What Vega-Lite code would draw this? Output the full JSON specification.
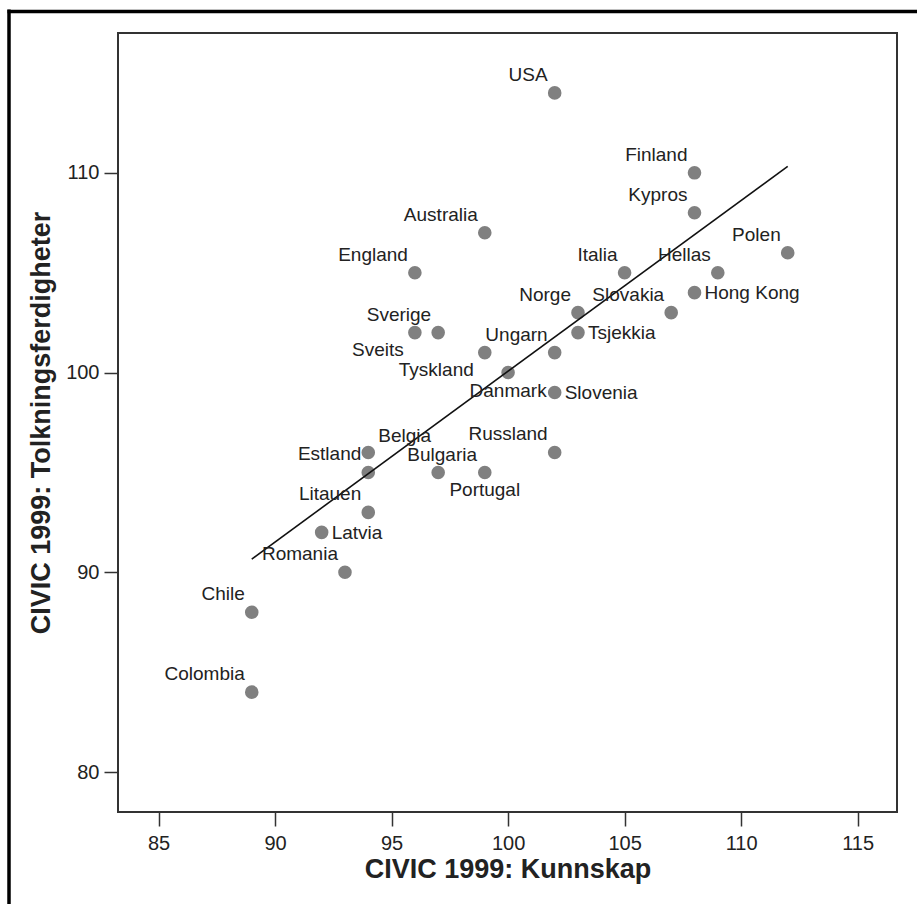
{
  "$schema": "https://vega.github.io/schema/vega-lite/v6.json",
  "width": 779,
  "height": 779,
  "autosize": "none",
  "padding": {"left": 118, "top": 33, "right": 20, "bottom": 92},
  "background": "white",
  "config": {
    "font": "Liberation Sans",
    "view": {"stroke": "#333333", "strokeWidth": 2},
    "axis": {
      "grid": false,
      "domain": false,
      "tickSize": 14,
      "tickColor": "#333333",
      "tickWidth": 1.5,
      "labelFont": "Liberation Sans",
      "labelFontSize": 20,
      "labelColor": "#222222",
      "labelFlush": false,
      "titleFont": "Liberation Sans",
      "titleFontSize": 27,
      "titleFontWeight": "bold",
      "titleColor": "#222222"
    },
    "text": {"font": "Liberation Sans", "fontSize": 19, "color": "#222222"}
  },
  "datasets": {
    "land": [
      {"land": "USA", "kunnskap": 102, "tolkning": 114, "side": "ul"},
      {"land": "Finland", "kunnskap": 108, "tolkning": 110, "side": "ul"},
      {"land": "Kypros", "kunnskap": 108, "tolkning": 108, "side": "ul"},
      {"land": "Australia", "kunnskap": 99, "tolkning": 107, "side": "ul"},
      {"land": "England", "kunnskap": 96, "tolkning": 105, "side": "ul"},
      {"land": "Italia", "kunnskap": 105, "tolkning": 105, "side": "ul"},
      {"land": "Hellas", "kunnskap": 109, "tolkning": 105, "side": "ul"},
      {"land": "Polen", "kunnskap": 112, "tolkning": 106, "side": "ul"},
      {"land": "Hong Kong", "kunnskap": 108, "tolkning": 104, "side": "r"},
      {"land": "Norge", "kunnskap": 103, "tolkning": 103, "side": "ul"},
      {"land": "Slovakia", "kunnskap": 107, "tolkning": 103, "side": "ul"},
      {"land": "Sverige", "kunnskap": 97, "tolkning": 102, "side": "ul"},
      {"land": "Sveits", "kunnskap": 96, "tolkning": 102, "side": "dl"},
      {"land": "Tsjekkia", "kunnskap": 103, "tolkning": 102, "side": "r"},
      {"land": "Ungarn", "kunnskap": 102, "tolkning": 101, "side": "ul"},
      {"land": "Tyskland", "kunnskap": 99, "tolkning": 101, "side": "dl"},
      {"land": "Danmark", "kunnskap": 100, "tolkning": 100, "side": "d"},
      {"land": "Slovenia", "kunnskap": 102, "tolkning": 99, "side": "r"},
      {"land": "Russland", "kunnskap": 102, "tolkning": 96, "side": "ul"},
      {"land": "Belgia", "kunnskap": 94, "tolkning": 96, "side": "ur"},
      {"land": "Estland", "kunnskap": 94, "tolkning": 95, "side": "ul"},
      {"land": "Bulgaria", "kunnskap": 97, "tolkning": 95, "side": "u"},
      {"land": "Portugal", "kunnskap": 99, "tolkning": 95, "side": "d"},
      {"land": "Litauen", "kunnskap": 94, "tolkning": 93, "side": "ul"},
      {"land": "Latvia", "kunnskap": 92, "tolkning": 92, "side": "r"},
      {"land": "Romania", "kunnskap": 93, "tolkning": 90, "side": "ul"},
      {"land": "Chile", "kunnskap": 89, "tolkning": 88, "side": "ul"},
      {"land": "Colombia", "kunnskap": 89, "tolkning": 84, "side": "ul"}
    ]
  },
  "data": {"name": "land"},
  "layer": [
    {
      "encoding": {
        "x": {
          "field": "kunnskap",
          "type": "quantitative",
          "scale": {"domain": [83.26, 116.69], "zero": false, "nice": false},
          "axis": {
            "values": [85, 90, 95, 100, 105, 110, 115],
            "title": "CIVIC 1999: Kunnskap",
            "labelPadding": 7,
            "titlePadding": 3
          }
        },
        "y": {
          "field": "tolkning",
          "type": "quantitative",
          "scale": {"domain": [78, 117], "zero": false, "nice": false},
          "axis": {
            "values": [80, 90, 100, 110],
            "title": "CIVIC 1999: Tolkningsferdigheter",
            "labelPadding": 5,
            "titlePadding": 10
          }
        }
      },
      "layer": [
        {
          "mark": {"type": "circle", "size": 185, "color": "#808080", "opacity": 1}
        },
        {
          "transform": [{"regression": "tolkning", "on": "kunnskap"}],
          "mark": {"type": "line", "color": "#111111", "strokeWidth": 1.6}
        },
        {
          "transform": [{"filter": "datum.side === 'ul'"}],
          "mark": {"type": "text", "align": "right", "baseline": "alphabetic", "dx": -7, "dy": -12},
          "encoding": {"text": {"field": "land"}}
        },
        {
          "transform": [{"filter": "datum.side === 'dl'"}],
          "mark": {"type": "text", "align": "right", "baseline": "alphabetic", "dx": -11, "dy": 23},
          "encoding": {"text": {"field": "land"}}
        },
        {
          "transform": [{"filter": "datum.side === 'r'"}],
          "mark": {"type": "text", "align": "left", "baseline": "alphabetic", "dx": 10, "dy": 6.5},
          "encoding": {"text": {"field": "land"}}
        },
        {
          "transform": [{"filter": "datum.side === 'ur'"}],
          "mark": {"type": "text", "align": "left", "baseline": "alphabetic", "dx": 10, "dy": -10},
          "encoding": {"text": {"field": "land"}}
        },
        {
          "transform": [{"filter": "datum.side === 'u'"}],
          "mark": {"type": "text", "align": "center", "baseline": "alphabetic", "dx": 4, "dy": -11},
          "encoding": {"text": {"field": "land"}}
        },
        {
          "transform": [{"filter": "datum.side === 'd'"}],
          "mark": {"type": "text", "align": "center", "baseline": "alphabetic", "dx": 0, "dy": 24},
          "encoding": {"text": {"field": "land"}}
        },
        {
          "data": {"values": [{"note": "R Sq Linear = 0,59"}]},
          "mark": {"type": "text", "align": "right", "baseline": "middle", "fontSize": 18},
          "encoding": {
            "x": {"datum": 115.4, "type": "quantitative"},
            "y": {"datum": 84, "type": "quantitative"},
            "text": {"field": "note"}
          }
        }
      ]
    },
    {
      "mark": {"type": "point", "opacity": 0},
      "encoding": {
        "x": {
          "field": "kunnskap",
          "type": "quantitative",
          "scale": {"domain": [0, 1], "range": [-111, 820], "zero": false, "nice": false},
          "axis": {"orient": "top", "offset": 22, "domain": true, "domainColor": "#000000", "domainWidth": 3.5, "ticks": false, "labels": false, "grid": false, "title": null}
        },
        "y": {
          "field": "tolkning",
          "type": "quantitative",
          "scale": {"domain": [0, 1], "range": [900, -24], "zero": false, "nice": false},
          "axis": {"orient": "left", "offset": 109.5, "domain": true, "domainColor": "#000000", "domainWidth": 3.5, "ticks": false, "labels": false, "grid": false, "title": null}
        }
      }
    }
  ],
  "resolve": {"scale": {"x": "independent", "y": "independent"}}
}
